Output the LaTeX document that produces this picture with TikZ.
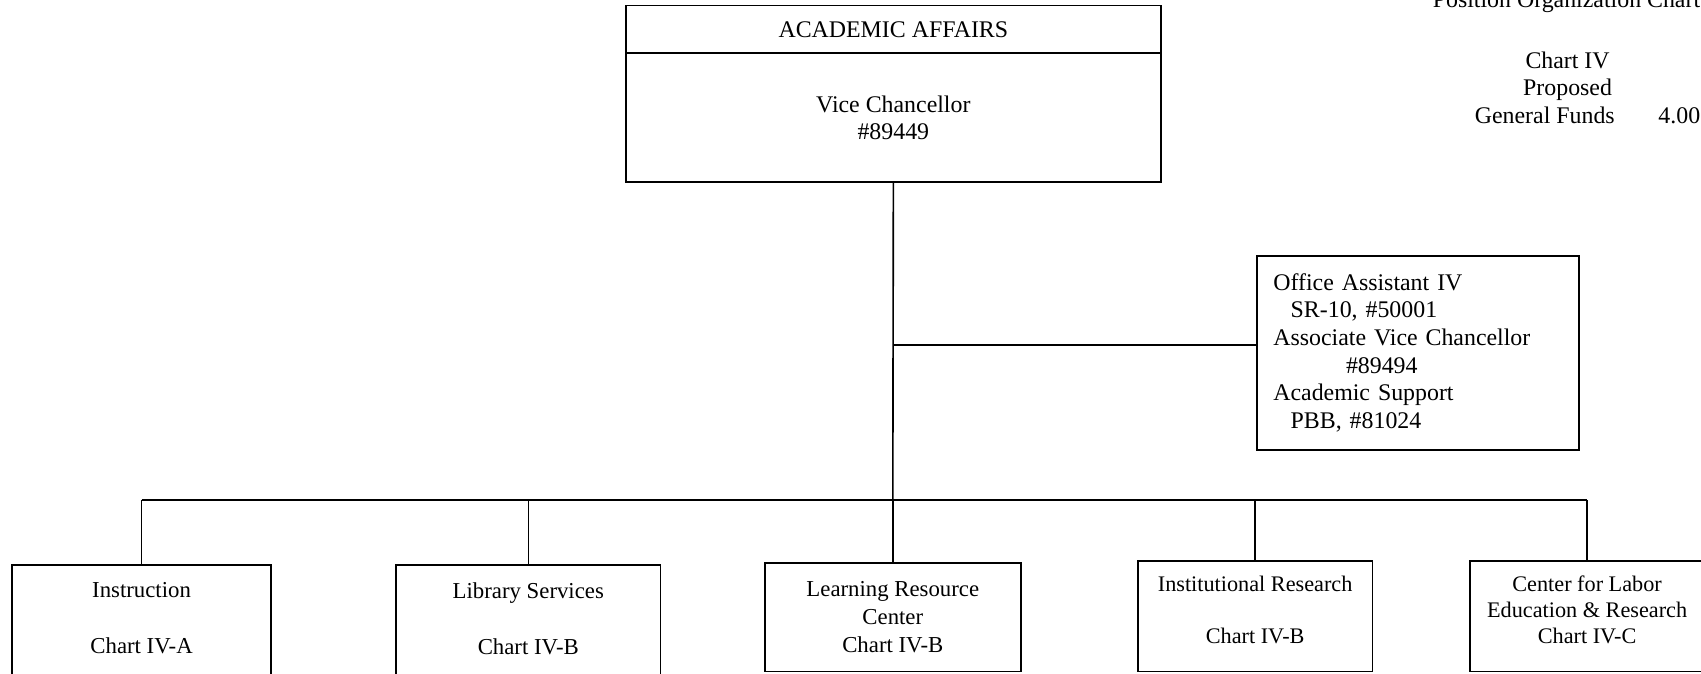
\documentclass[tikz,border=0pt]{standalone}
\usepackage{fontspec}
\setmainfont{Liberation Serif}
\begin{document}
\begin{tikzpicture}[x=1pt,y=-1pt,
  line width=1.5,
  box/.style={draw, inner sep=0pt, align=center, font=\fontsize{22}{25}\selectfont},
  unit/.style={draw, inner sep=0pt, align=center, font=\fontsize{21}{25.5}\selectfont},
  small/.style={font=\fontsize{20.5}{24}\selectfont},
  plain/.style={inner sep=0pt, font=\fontsize{22}{25}\selectfont}]
\useasboundingbox (0,0) rectangle (1568,621);

% title block, top right
\node[plain, anchor=west] (title) at (1320,2) {Position Organization Chart};
\node[plain, anchor=base] (chart) at (1445,63) {Chart IV};
\node[plain, anchor=base] (prop) at (1445,88) {Proposed};
\node[plain, anchor=base] (gf) at (1424,114) {General Funds};
\node[plain, anchor=base west] (gfn) at (1528,114) {4.00};

% head office
\node[box, minimum width=493, minimum height=44] (aa) at (823.5,27) {ACADEMIC AFFAIRS};
\node[box, minimum width=493, minimum height=119] (vc) at (823.5,108.5) {Vice Chancellor\\\#89449};

% staff box
\node[draw, anchor=north west, inner xsep=15pt, inner ysep=0pt, text width=267pt,
      minimum height=179, align=left,
      font=\fontsize{22}{25.5}\selectfont] (off) at (1158,235)
  {Office Assistant IV\\
   \hspace*{16pt}SR-10, \#50001\\
   Associate Vice Chancellor\\
   \hspace*{67pt}\#89494\\
   Academic Support\\
   \hspace*{16pt}PBB, \#81024};

% units
\node[unit, text depth=4pt, minimum width=239, minimum height=102] (ins) at (130.5,572) {Instruction\\[26pt]Chart IV-A};
\node[unit, text depth=4pt, minimum width=244, minimum height=102] (lib) at (487,572) {Library Services\\[26pt]Chart IV-B};
\node[unit, minimum width=236, minimum height=100] (lrc) at (823,569) {Learning Resource\\Center\\Chart IV-B};
\node[unit, small, text depth=12pt, minimum width=216, minimum height=102] (inr) at (1157,568) {Institutional Research\\[24pt]Chart IV-B};
\node[unit, small, text depth=12pt, minimum width=216, minimum height=102] (clr) at (1463,568) {Center for Labor\\Education \& Research\\Chart IV-C};

% connectors
\coordinate (bus) at (823,461);
\coordinate (j) at (823,318);
\draw (vc.south) -- (bus);
\draw (j) -- (j -| off.west);
\draw (ins.north |- bus) -- (clr.north |- bus);
\foreach \n in {ins,lib,lrc,inr,clr}
  \draw (\n.north) -- (\n.north |- bus);
\end{tikzpicture}
\end{document}
